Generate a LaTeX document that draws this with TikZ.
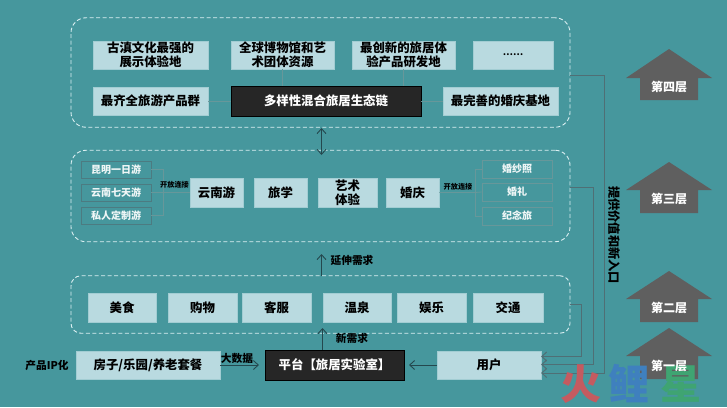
\documentclass[tikz,border=0pt]{standalone}
\usepackage{fontspec}
\setmainfont{Noto Sans CJK SC}
\usetikzlibrary{arrows.meta}
\definecolor{bgc}{HTML}{46979D}
\definecolor{boxc}{HTML}{B9DAE0}
\definecolor{darkc}{HTML}{262626}
\definecolor{housec}{HTML}{5F5F5F}
\definecolor{dashc}{HTML}{DCF0F2}
\definecolor{linec}{HTML}{4F6F75}
\definecolor{faintc}{HTML}{5F9FA3}
\definecolor{arrc}{HTML}{24484E}
\definecolor{wred}{HTML}{C45B60}
\definecolor{wblue}{HTML}{3F80BE}
\definecolor{wgreen}{HTML}{3FA472}
\tikzset{
  x=1pt,y=-1pt,
  panelbox/.style={draw=dashc,dashed,dash pattern=on 4pt off 2.5pt,line width=.9pt,rounded corners=15pt},
  lightbox/.style={fill=boxc,draw=boxc!80!bgc,line width=.7pt,inner sep=0pt,align=center,font=\bfseries\fontsize{12.4}{14.4}\selectfont,text=black},
  smallbox/.style={draw=linec!70!bgc,line width=.9pt,inner sep=0pt,text=white!92!bgc,font=\bfseries\fontsize{10}{11}\selectfont},
  ghostbox/.style={draw=faintc!75!gray,line width=.8pt,inner sep=0pt,text=white!92!bgc,font=\bfseries\fontsize{10}{11}\selectfont},
  faintline/.style={draw=faintc!75!gray,line width=.8pt},
  arr/.style={draw=arrc,line width=.9pt,-{Straight Barb[length=5pt,width=9pt]}},
  feed/.style={draw=linec,line width=1pt,-{Straight Barb[length=5pt,width=9pt]}},
  lab/.style={font=\bfseries\fontsize{10.7}{12}\selectfont,text=black,inner sep=0pt},
  tiny/.style={font=\bfseries\fontsize{7.2}{8}\selectfont,text=black,inner sep=0pt},
  houselab/.style={font=\bfseries\fontsize{12}{13}\selectfont,text=white,inner sep=0pt},
  mark glyph/.style={inner sep=0pt,font=\bfseries\fontsize{41}{43}\selectfont},
}
\newcommand{\bx}[7][lightbox]{\node[#1,minimum width=#5-#3,minimum height=#6-#4] (#2) at ({(#3+#5)/2},{(#4+#6)/2}) {#7};}
\newcommand{\housepic}[3]{%
  \fill[housec] (669,#1) -- (712,#2) -- (698,#2) -- (698,#3) -- (640,#3) -- (640,#2) -- (626,#2) -- cycle;}
\begin{document}
\begin{tikzpicture}
\useasboundingbox (0,0) rectangle (727,407);
\fill[bgc] (0,0) rectangle (727,407);

% panels
\node[panelbox,minimum width=499,minimum height=109.5,inner sep=0pt] (p1) at (320.5,72.5) {};
\node[panelbox,minimum width=499,minimum height=91.5,inner sep=0pt] (p2) at (320.5,196) {};
\node[panelbox,rounded corners=10pt,minimum width=499,minimum height=57.5,inner sep=0pt] (p3) at (320.5,304.5) {};

% top panel
\bx{a1}{93}{41}{208}{69}{\hbox{古滇文化最强的}\\展示体验地}
\bx{a2}{231}{41}{334}{69}{全球博物馆和艺\\术团体资源}
\bx{a3}{352}{41}{455}{69}{最创新的旅居体\\验产品研发地}
\bx{a4}{473}{41}{553}{69}{\fontsize{9}{10}\selectfont ……}
\bx{b1}{93}{87}{208}{115}{最齐全旅游产品群}
\bx[lightbox,fill=darkc,draw=black,text=white]{b2}{231}{86}{421}{116}{多样性混合旅居生态链}
\bx{b3}{443}{87}{558}{115}{最完善的婚庆基地}
\draw[faintline] (a2.south) -- (a2.south|-b2.north);
\draw[faintline] (a3.south) -- (a3.south|-b2.north);
\draw[faintline] (b1) -- (b2);
\draw[faintline] (b2) -- (b3);

% middle panel
\bx[smallbox]{s1}{81}{161}{151}{178}{昆明一日游}
\bx[smallbox]{s2}{81}{184}{151}{201}{云南七天游}
\bx[smallbox]{s3}{81}{207}{151}{224}{私人定制游}
\bx{m1}{190}{178}{243}{207}{云南游}
\bx{m2}{254}{178}{307}{207}{旅学}
\bx{m3}{318}{178}{377}{207}{艺术\\体验}
\bx{m4}{386}{178}{439}{207}{婚庆}
\bx[ghostbox]{r1}{482}{160}{552}{178}{婚纱照}
\bx[ghostbox]{r2}{482}{183}{552}{201}{婚礼}
\bx[ghostbox]{r3}{482}{207}{552}{225}{纪念旅}
\coordinate (jl) at (163,192.5);
\coordinate (jr) at (475,192.5);
\draw[faintline] (s1.east) -| (jl);
\draw[faintline] (s3.east) -| (jl);
\draw[faintline] (s2.east) -- (jl) -- (m1.west);
\draw[faintline] (m4.east) -- (jr) -- (r2.west);
\draw[faintline] (r1.west) -| (jr);
\draw[faintline] (r3.west) -| (jr);
\node[tiny] (t1) at (174.5,185) {开放连接};
\node[tiny] (t2) at (458,187) {开放连接};

% lower panel
\bx{c1}{88}{293}{156}{322}{美食}
\bx{c2}{168}{293}{237}{322}{购物}
\bx{c3}{242}{293}{311}{322}{客服}
\bx{c4}{323}{293}{391}{322}{温泉}
\bx{c5}{397}{293}{466}{322}{娱乐}
\bx{c6}{473}{293}{543}{322}{交通}

% bottom row
\node[lab] (ip) at (47,365) {产品IP化};
\bx{d1}{76}{351}{220}{379}{房子/乐园/养老套餐}
\bx[lightbox,fill=darkc,draw=black,text=white]{d2}{265}{350}{404}{380}{平台【旅居实验室】}
\bx{d3}{437}{351}{541}{379}{用户}
\coordinate (d2a) at (259,365);
\draw[arr] (d1.east) -- (d2a);
\node[lab] (bd) at (237,358) {大数据};
\coordinate (d3b) at (409,365);
\draw[arr] (d3.west) -- (d3b);
\coordinate (u1) at (322.5,350);
\coordinate (u2) at (322.5,328);
\draw[arr] (u1) -- (u2);
\node[lab] (xq) at (352,338) {新需求};
\coordinate (u3) at (321.5,276);
\coordinate (u4) at (321.5,254);
\draw[arr] (u3) -- (u4);
\node[lab] (yq) at (352,260) {延伸需求};
\coordinate (u5) at (321.5,128);
\coordinate (u6) at (321.5,155);
\draw[draw=arrc,line width=.9pt,{Straight Barb[length=5pt,width=9pt]}-{Straight Barb[length=5pt,width=9pt]}] (u5) -- (u6);

% feedback lines
\coordinate (f1a) at (570,304);
\coordinate (f1b) at (581,356.5);
\coordinate (f1c) at (541,356.5);
\coordinate (f2a) at (570,187);
\coordinate (f2b) at (593,364.5);
\coordinate (f2c) at (541,364.5);
\coordinate (f3a) at (570,75);
\coordinate (f3b) at (604,373);
\coordinate (f3c) at (541,373);
\draw[feed] (f1a) -| (f1b) -- (f1c);
\draw[feed] (f2a) -| (f2b) -- (f2c);
\draw[feed] (f3a) -| (f3b) -- (f3c);
\node[lab,font=\bfseries\fontsize{12.2}{14}\selectfont,rotate=-90] (vt) at (614,235) {提供价值和新入口};

% houses
\housepic{49}{78}{100}
\housepic{162}{190}{213}
\housepic{271}{299}{322}
\housepic{328}{356}{379}

% watermark
\node[mark glyph,text=wred] (w1) at (581,384) {火};
\node[mark glyph,text=wblue] (w2) at (629,384) {鲤};
\node[mark glyph,text=wgreen] (w3) at (681,384) {星};
\node[houselab] (h4) at (669,87) {第四层};
\node[houselab] (h3) at (669,199) {第三层};
\node[houselab] (h2) at (669,308) {第二层};
\node[houselab] (h1) at (669,366) {第一层};
\end{tikzpicture}
\end{document}
